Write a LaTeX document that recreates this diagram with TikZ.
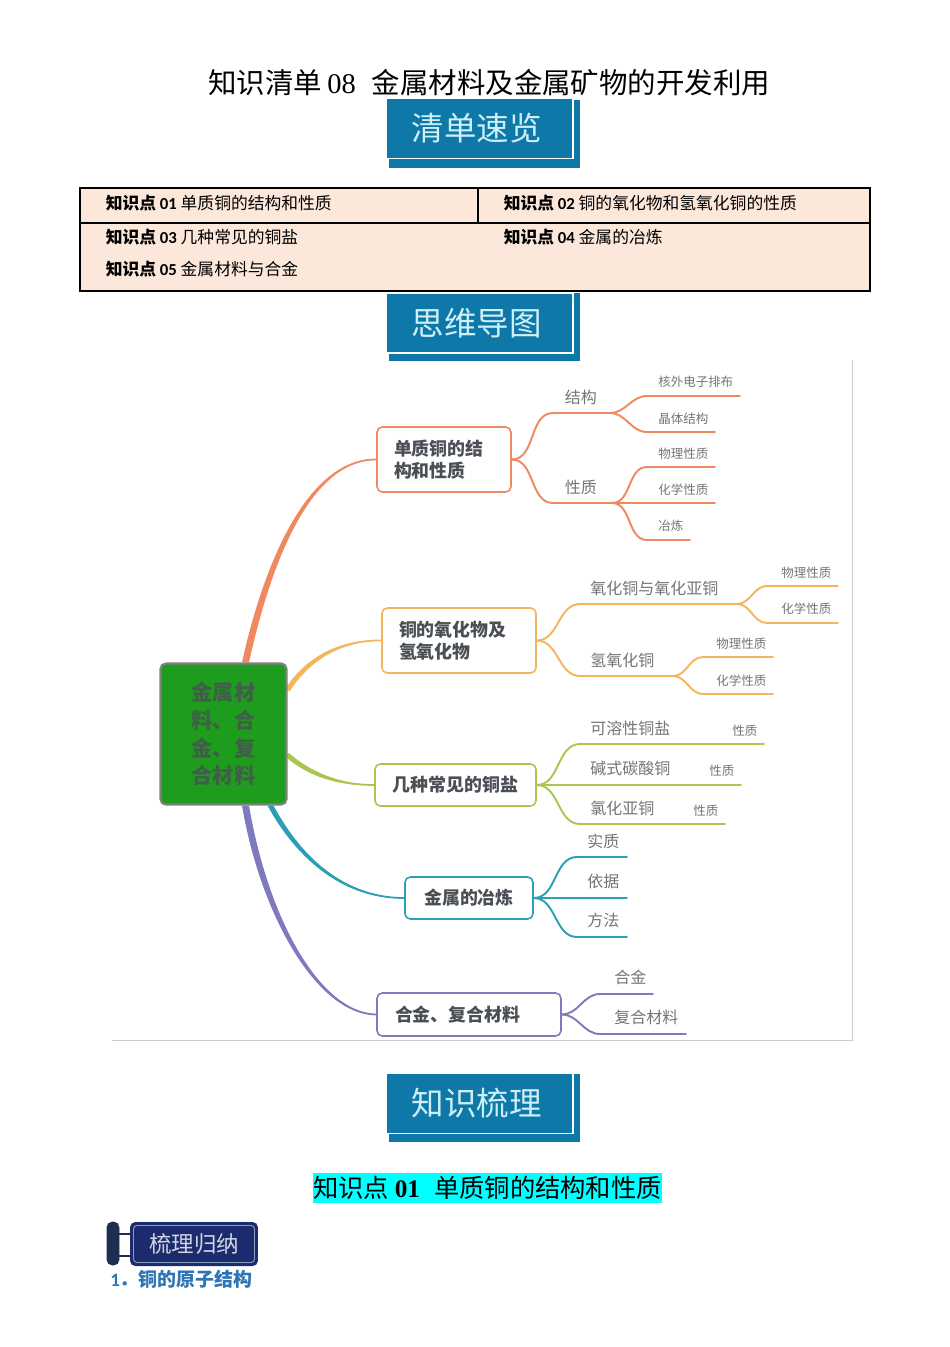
\documentclass[tikz,border=0pt]{standalone}
\usepackage{fontspec}
\setmainfont{Noto Sans CJK SC}
\newfontfamily\calib{Carlito}
\newfontfamily\timesf{Liberation Serif}
\usetikzlibrary{calc}
\usetikzlibrary{backgrounds}
\definecolor{cuorange}{HTML}{F0895F}
\definecolor{cuyellow}{HTML}{F5B55F}
\definecolor{cugreen}{HTML}{ABC64E}
\definecolor{cuteal}{HTML}{2BA0B4}
\definecolor{cupurple}{HTML}{7F79BE}
\definecolor{rootgreen}{HTML}{1D9C1D}
\definecolor{rootink}{HTML}{3F5F48}
\definecolor{bannerblue}{HTML}{0E78A8}
\definecolor{bannerink}{HTML}{CDEFF8}
\definecolor{cellfill}{HTML}{FCE8DA}
\definecolor{navysign}{HTML}{1C2A6E}
\definecolor{postnavy}{HTML}{1F2D50}
\definecolor{inkdark}{HTML}{4A4F55}
\definecolor{inkgray}{HTML}{747474}
\definecolor{itemblue}{HTML}{2E75B6}
\definecolor{headcyan}{HTML}{00FFFF}
\tikzset{
	bannerfront/.style={draw=white,line width=0.7pt,fill=bannerblue,text=bannerink,minimum width=3.74cm,minimum height=1.2cm,inner sep=0pt,font=\fontsize{18.5}{22}\selectfont},
	bannerback/.style={fill=bannerblue,minimum width=3.82cm,minimum height=1.36cm,inner sep=0pt},
	celltext/.style={anchor=west,inner sep=0pt,font=\fontsize{9.55}{12}\selectfont},
	mainbox/.style={draw,fill=white,line width=0.9pt,rounded corners=3pt,inner sep=0pt,text=inkdark,font=\fontsize{10.2}{12.5}\selectfont\bfseries},
	twig/.style={line width=1.1pt,line cap=round},
	labelbig/.style={anchor=west,inner sep=0pt,text=inkgray,font=\fontsize{9.1}{11}\selectfont},
	labelsmall/.style={anchor=west,inner sep=0pt,text=inkgray,font=\fontsize{7.1}{9}\selectfont},
}
% banner text sits a little left of and below the middle
\newcommand{\bannertext}[1]{\raisebox{-2pt}{\hspace*{-3pt}#1}}
% tapered trunk: colour, start, control, control, end, offset at the start, offset at the second control
\newcommand{\trunkline}[7]{
	\fill[#1] ($(#2)+(#6)$) .. controls ($#3+(#6)$) and ($#4+(#7)$) .. (#5) .. controls ($#4-(#7)$) and ($#3-(#6)$) .. ($(#2)-(#6)$) -- cycle;
	\draw[#1,line width=1pt] (#2) .. controls #3 and #4 .. (#5);
}
\begin{document}
\begin{tikzpicture}[x=0.02cm,y=-0.02cm]
	\useasboundingbox (0,0) rectangle (950,1347);
	% title
	\node[anchor=west,inner sep=0pt,font=\fontsize{16.2}{20}\selectfont] (title) at (208,83) {知识清单\hspace{3pt}{\timesf 08}\hspace{9pt}金属材料及金属矿物的开发利用};
	% first banner
	\node[bannerback] (backA) at (484.5,134) {};
	\node[bannerfront] (bannerA) at (479.5,128.5) {\bannertext{清单速览}};
	% table of points
	\draw[fill=cellfill,line width=1.2pt] (80,188) rectangle (870,291);
	\draw[line width=1.2pt] (80,223) -- (870,223);
	\draw[line width=1.2pt] (478,188) -- (478,223);
	\node[celltext] (kpA) at (105.5,203) {\textbf{知识点} {\calib\bfseries 01} 单质铜的结构和性质};
	\node[celltext] (kpB) at (503.5,203) {\textbf{知识点} {\calib\bfseries 02} 铜的氧化物和氢氧化铜的性质};
	\node[celltext] (kpC) at (105.5,237) {\textbf{知识点} {\calib\bfseries 03} 几种常见的铜盐};
	\node[celltext] (kpD) at (503.5,237) {\textbf{知识点} {\calib\bfseries 04} 金属的冶炼};
	\node[celltext] (kpE) at (105.5,269) {\textbf{知识点} {\calib\bfseries 05} 金属材料与合金};
	% second banner
	\node[bannerback] (backB) at (484.5,327) {};
	\node[bannerfront] (bannerB) at (479.5,323) {\bannertext{思维导图}};
	% picture frame
	\draw[gray!40,line width=0.4pt] (852,360) -- (852,1040) -- (112,1040);
	% mind map boxes
	\node[fill=rootgreen,draw=gray,line width=1.2pt,rounded corners=3pt,minimum width=2.52cm,minimum height=2.82cm,inner sep=0pt,align=center,text=rootink,font=\fontsize{12.1}{15.7}\selectfont\bfseries] (root) at (223.5,734) {金属材\\料、合\\金、复\\合材料};
	\node[mainbox,draw=cuorange,minimum width=2.68cm,minimum height=1.3cm,inner xsep=0.34cm,text width=2cm,align=left] (single) at (444,459.5) {单质铜的结\\构和性质};
	\node[mainbox,draw=cuyellow,minimum width=3.08cm,minimum height=1.3cm,inner xsep=0.34cm,text width=2.4cm,align=left] (oxide) at (459,640.5) {铜的氧化物及\\氢氧化物};
	\node[mainbox,draw=cugreen,minimum width=3.22cm,minimum height=0.84cm] (salt) at (455.5,785) {几种常见的铜盐};
	\node[mainbox,draw=cuteal,minimum width=2.56cm,minimum height=0.84cm] (smelt) at (469,898) {金属的冶炼};
	\node[mainbox,draw=cupurple,minimum width=3.68cm,minimum height=0.86cm,inner xsep=0.36cm,text width=2.96cm,align=left] (alloy) at (469,1014.5) {合金、复合材料};
	% trunks from the root
	\coordinate (rootA) at ($(root.north)+(22,0)$);
	\coordinate (rootB) at ($(root.east)+(0,-44)$);
	\coordinate (rootC) at ($(root.east)+(0,21)$);
	\coordinate (rootD) at ($(root.south)+(47,0)$);
	\coordinate (rootE) at ($(root.south)+(22,0)$);
	\begin{scope}[on background layer]
		\trunkline{cuorange}{rootA}{(268,560)}{(310,459)}{single.west}{3.5,0}{0.8,2}
		\trunkline{cuyellow}{rootB}{(310,655)}{(345,640)}{oxide.west}{2,1.5}{0,1.5}
		\trunkline{cugreen}{rootC}{(310,775)}{(340,785)}{salt.west}{1.5,-2}{0,-1.5}
		\trunkline{cuteal}{rootD}{(300,860)}{(345,898)}{smelt.west}{3,0}{0,-2}
		\trunkline{cupurple}{rootE}{(265,920)}{(320,1014)}{alloy.west}{3.5,0}{0,-2.5}
	\end{scope}
	% single copper
	\coordinate (jgA) at (553,413); \coordinate (jgB) at (610,413);
	\coordinate (hwA) at (647,396); \coordinate (hwB) at (740,396);
	\coordinate (jtA) at (647,432); \coordinate (jtB) at (715,432);
	\coordinate (xzA) at (553,503); \coordinate (xzB) at (612,503);
	\coordinate (wlA) at (647,467); \coordinate (wlB) at (715,467);
	\coordinate (hxB) at (715,503);
	\coordinate (yaA) at (647,540); \coordinate (yaB) at (690,540);
	\draw[twig,cuorange] (single.east) to[out=0,in=180] (jgA) -- (jgB);
	\draw[twig,cuorange] (jgB) to[out=0,in=180] (hwA) -- (hwB);
	\draw[twig,cuorange] (jgB) to[out=0,in=180] (jtA) -- (jtB);
	\draw[twig,cuorange] (single.east) to[out=0,in=180] (xzA) -- (xzB);
	\draw[twig,cuorange] (xzB) to[out=0,in=180] (wlA) -- (wlB);
	\draw[twig,cuorange] (xzB) -- (hxB);
	\draw[twig,cuorange] (xzB) to[out=0,in=180] (yaA) -- (yaB);
	\node[labelbig] (jiegou) at (564.5,397) {结构};
	\node[labelbig] (xingzhi) at (564.5,487) {性质};
	\node[labelsmall] (hewai) at (658,382) {核外电子排布};
	\node[labelsmall] (jingti) at (658,419) {晶体结构};
	\node[labelsmall] (wuli) at (658,454) {物理性质};
	\node[labelsmall] (huaxue) at (658,490) {化学性质};
	\node[labelsmall] (yelian) at (658,526) {冶炼};
	% oxides
	\coordinate (ohA) at (580,604); \coordinate (ohB) at (737,604);
	\coordinate (owA) at (767,586); \coordinate (owB) at (838,586);
	\coordinate (ocA) at (767,623); \coordinate (ocB) at (838,623);
	\coordinate (qhA) at (580,676); \coordinate (qhB) at (673,676);
	\coordinate (qwA) at (703,657); \coordinate (qwB) at (773,657);
	\coordinate (qcA) at (703,694); \coordinate (qcB) at (773,694);
	\draw[twig,cuyellow] (oxide.east) to[out=0,in=180] (ohA) -- (ohB);
	\draw[twig,cuyellow] (ohB) to[out=0,in=180] (owA) -- (owB);
	\draw[twig,cuyellow] (ohB) to[out=0,in=180] (ocA) -- (ocB);
	\draw[twig,cuyellow] (oxide.east) to[out=0,in=180] (qhA) -- (qhB);
	\draw[twig,cuyellow] (qhB) to[out=0,in=180] (qwA) -- (qwB);
	\draw[twig,cuyellow] (qhB) to[out=0,in=180] (qcA) -- (qcB);
	\node[labelbig] (yanghua) at (590,588) {氧化铜与氧化亚铜};
	\node[labelbig] (qingyang) at (590,660) {氢氧化铜};
	\node[labelsmall] (owl) at (781,573) {物理性质};
	\node[labelsmall] (ohx) at (781,609) {化学性质};
	\node[labelsmall] (qwl) at (716,644) {物理性质};
	\node[labelsmall] (qhx) at (716,681) {化学性质};
	% copper salts
	\coordinate (ksA) at (580,744); \coordinate (ksB) at (764,744);
	\coordinate (jsB) at (741,785);
	\coordinate (lhA) at (580,824); \coordinate (lhB) at (725,824);
	\draw[twig,cugreen] (salt.east) to[out=0,in=180] (ksA) -- (ksB);
	\draw[twig,cugreen] (salt.east) -- (jsB);
	\draw[twig,cugreen] (salt.east) to[out=0,in=180] (lhA) -- (lhB);
	\node[labelbig] (kerong) at (590,728) {可溶性铜盐};
	\node[labelbig] (jianshi) at (590,768) {碱式碳酸铜};
	\node[labelbig] (lvhua) at (590,808) {氯化亚铜};
	\node[labelsmall] (kxz) at (732,731) {性质};
	\node[labelsmall] (jxz) at (709,771) {性质};
	\node[labelsmall] (lxz) at (693,811) {性质};
	% smelting
	\coordinate (szA) at (577,857); \coordinate (szB) at (627,857);
	\coordinate (yjB) at (627,898);
	\coordinate (ffA) at (577,937); \coordinate (ffB) at (627,937);
	\draw[twig,cuteal] (smelt.east) to[out=0,in=180] (szA) -- (szB);
	\draw[twig,cuteal] (smelt.east) -- (yjB);
	\draw[twig,cuteal] (smelt.east) to[out=0,in=180] (ffA) -- (ffB);
	\node[labelbig] (shizhi) at (587,841) {实质};
	\node[labelbig] (yiju) at (587,881) {依据};
	\node[labelbig] (fangfa) at (587,920) {方法};
	% alloys
	\coordinate (hjA) at (600,994); \coordinate (hjB) at (653,994);
	\coordinate (fhA) at (600,1034); \coordinate (fhB) at (686,1034);
	\draw[twig,cupurple] (alloy.east) to[out=0,in=180] (hjA) -- (hjB);
	\draw[twig,cupurple] (alloy.east) to[out=0,in=180] (fhA) -- (fhB);
	\node[labelbig] (hejin) at (614,977) {合金};
	\node[labelbig] (fuhe) at (614,1017) {复合材料};
	% third banner
	\node[bannerback] (backC) at (484.5,1108) {};
	\node[bannerfront] (bannerC) at (479.5,1103.5) {\bannertext{知识梳理}};
	% section heading
	\node[fill=headcyan,minimum width=6.98cm,minimum height=0.6cm,inner sep=0pt,font=\fontsize{14.4}{18}\selectfont] (heading) at (487.5,1188) {\raisebox{-1.5pt}{知识点 {\timesf\bfseries 01}\hspace{8pt}单质铜的结构和性质}};
	% sign
	\draw[postnavy,fill=postnavy,rounded corners=3pt] (107,1222) rectangle (119,1265);
	\draw[postnavy,line width=1pt] (119,1234) -- (131,1234);
	\draw[postnavy,line width=1pt] (119,1256) -- (131,1256);
	\node[fill=navysign,rounded corners=3pt,minimum width=2.56cm,minimum height=0.88cm,inner sep=0pt] (signbox) at (194,1244) {};
	\node[draw=bannerink!60!navysign,line width=0.5pt,rounded corners=2pt,minimum width=2.42cm,minimum height=0.74cm,inner sep=0pt,text=white!80!navysign,font=\fontsize{12.8}{15}\selectfont] (sign) at (194,1244) {梳理归纳};
	% first item
	\node[anchor=west,inner sep=0pt,text=itemblue,font=\fontsize{10.8}{13}\selectfont\bfseries] (itemA) at (110,1279) {{\calib 1}．铜的原子结构};
\end{tikzpicture}
\end{document}
